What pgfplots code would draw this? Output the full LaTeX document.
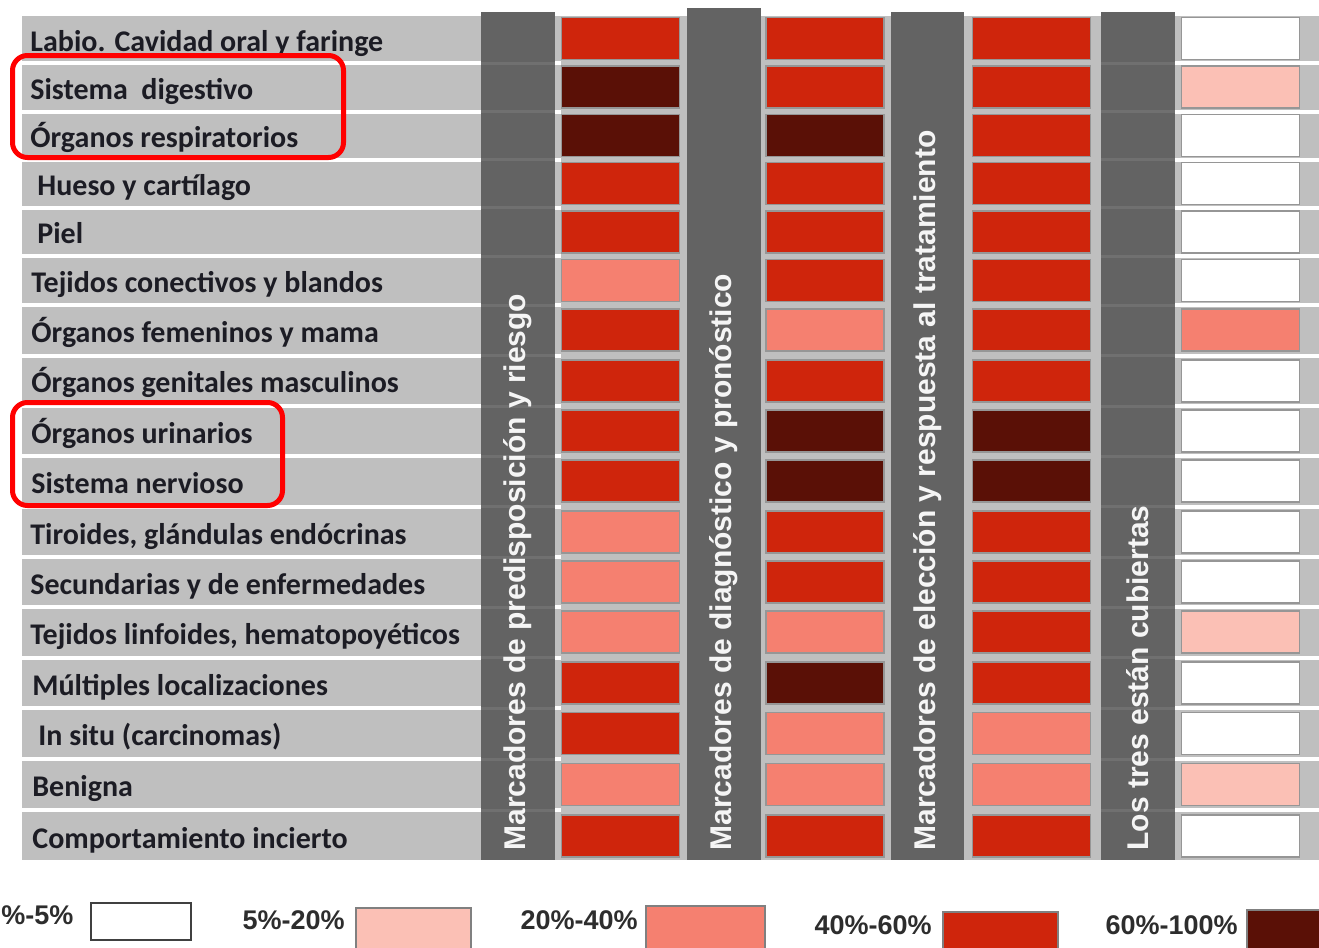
\documentclass[border=0pt]{standalone}
\usepackage{pgfplots}
\pgfplotsset{compat=1.18}
\usepackage{pgfplotstable}
\usepackage{fontspec}
\setmainfont{Carlito}
\newfontfamily\dejavu{DejaVu Sans}
\newfontfamily\libsans{Liberation Sans}
\definecolor{cred}{RGB}{207,37,12}
\definecolor{cdark}{RGB}{90,16,6}
\definecolor{csalmon}{RGB}{245,128,112}
\definecolor{cpink}{RGB}{251,192,181}
\definecolor{rowgray}{RGB}{191,191,191}
\definecolor{hdgray}{RGB}{99,99,99}
\definecolor{hdline}{RGB}{112,112,112}
\definecolor{cellborder}{RGB}{150,150,150}
\definecolor{labtext}{RGB}{28,28,36}
\definecolor{legtext}{RGB}{45,45,45}
\pgfdeclareplotmark{cell}{%
  \pgfpathrectangle{\pgfqpoint{-29.5pt}{-10.5pt}}{\pgfqpoint{59pt}{21pt}}%
  \pgfusepathqfill
  \pgfsetstrokecolor{cellborder}\pgfsetlinewidth{0.75pt}%
  \pgfpathrectangle{\pgfqpoint{-29.5pt}{-10.5pt}}{\pgfqpoint{59pt}{21pt}}%
  \pgfusepathqstroke}
% levels: W 0-5%, P 5-20%, S 20-40%, R 40-60%, D 60-100%
\pgfplotstableread{
y      c1 c2 c3 c4
38.5   R  R  R  W
87     D  R  R  P
135.5  D  D  R  W
183.5  R  R  R  W
231.75 R  R  R  W
280.5  S  R  R  W
330    R  S  R  S
380.75 R  R  R  W
431    R  D  D  W
481    R  D  D  W
532    S  R  R  W
582    S  R  R  W
632    S  S  R  P
683    R  D  R  W
733.5  R  S  S  W
784.5  S  S  S  P
836    R  R  R  W
}\data
\begin{document}
\begin{tikzpicture}
\begin{axis}[
  scale only axis, width=659.5pt, height=474pt,
  xmin=0, xmax=1319, ymin=0, ymax=948, y dir=reverse,
  axis lines=none, clip=false,
  cellstyle/.style={scatter, only marks, mark=cell,
    scatter src=explicit symbolic,
    scatter/classes={W={fill=white},P={fill=cpink},S={fill=csalmon},R={fill=cred},D={fill=cdark}}},
]
% background
\fill[rowgray] (axis cs:22,16) rectangle (axis cs:1319,860);
\pgfplotsinvokeforeach{63,111.5,159.5,207.5,256,305,355.5,406,456,506.5,557,607,657.5,708,759,810}{
  \draw[white, line width=2pt] (axis cs:22,#1) -- (axis cs:481,#1);
  \draw[white, line width=2pt] (axis cs:555,#1) -- (axis cs:561,#1);
  \draw[white, line width=2pt] (axis cs:1175,#1) -- (axis cs:1319,#1);
}
\fill[hdgray] (axis cs:481,12) rectangle (axis cs:555,860);
\fill[hdgray] (axis cs:687,8) rectangle (axis cs:761,860);
\fill[hdgray] (axis cs:891,12) rectangle (axis cs:964,860);
\fill[hdgray] (axis cs:1101,12) rectangle (axis cs:1175,860);
\pgfplotsinvokeforeach{63,111.5,159.5,207.5,256,305,355.5,406,456,506.5,557,607,657.5,708,759,810}{
  \draw[hdline, line width=1.5pt] (axis cs:481,#1) -- (axis cs:555,#1);
  \draw[hdline, line width=1.5pt] (axis cs:1101,#1) -- (axis cs:1175,#1);
}
% cells
\addplot[cellstyle] table[x expr=620.5, y=y, meta=c1]{\data};
\addplot[cellstyle] table[x expr=825, y=y, meta=c2]{\data};
\addplot[cellstyle] table[x expr=1031.5, y=y, meta=c3]{\data};
\addplot[cellstyle] table[x expr=1240.5, y=y, meta=c4]{\data};
% header labels
\begin{scope}[every node/.style={rotate=90, anchor=west, text=white!96!black, font=\libsans\bfseries\fontsize{15}{18}\selectfont, inner sep=0pt}]
\node at (axis cs:518,851) {Marcadores de predisposición y riesgo};
\node at (axis cs:724,851) {Marcadores de diagnóstico y pronóstico};
\node at (axis cs:927.5,851) {Marcadores de elección y respuesta al tratamiento};
\node at (axis cs:1138,851) {Los tres están cubiertas};
\end{scope}
% row labels
\begin{scope}[every node/.style={anchor=base west, text=labtext, font=\bfseries\fontsize{15}{18}\selectfont, inner sep=0pt}]
\node at (axis cs:30,51) {Labio. Cavidad oral y faringe};
\node at (axis cs:30,99) {Sistema\ \ digestivo};
\node at (axis cs:30,147.5) {Órganos respiratorios};
\node at (axis cs:37,195.5) {Hueso y cartílago};
\node at (axis cs:37,243.75) {Piel};
\node at (axis cs:31,292.5) {Tejidos conectivos y blandos};
\node at (axis cs:31,342) {Órganos femeninos y mama};
\node at (axis cs:31,392.75) {Órganos genitales masculinos};
\node at (axis cs:31,443) {Órganos urinarios};
\node at (axis cs:31,493) {Sistema nervioso};
\node at (axis cs:30,544) {Tiroides, glándulas endócrinas};
\node at (axis cs:30,594) {Secundarias y de enfermedades};
\node at (axis cs:30,644) {Tejidos linfoides, hematopoyéticos};
\node at (axis cs:32,695) {Múltiples localizaciones};
\node at (axis cs:38,745.5) {In situ (carcinomas)};
\node at (axis cs:32,796.5) {Benigna};
\node at (axis cs:32,848) {Comportamiento incierto};
\end{scope}
% highlight boxes
\draw[red, line width=2.5pt, rounded corners=7.5pt] (axis cs:12.5,55.5) rectangle (axis cs:343.5,157.5);
\draw[red, line width=2.5pt, rounded corners=7.5pt] (axis cs:12.5,402.5) rectangle (axis cs:282.5,505.5);
% legend
\begin{scope}[every node/.style={anchor=east, text=legtext, font=\libsans\bfseries\fontsize{13.5}{16}\selectfont, inner sep=0pt}]
\node[anchor=west] at (axis cs:1,915) {\%-5\%};
\node at (axis cs:345,920) {5\%-20\%};
\node at (axis cs:638,920) {20\%-40\%};
\node at (axis cs:932,925) {40\%-60\%};
\node at (axis cs:1238,925) {60\%-100\%};
\end{scope}
\filldraw[fill=white, draw=black!75, line width=1.2pt] (axis cs:91,903) rectangle (axis cs:191,940);
\fill[cpink] (axis cs:356,908) rectangle (axis cs:471,948);
\draw[gray, line width=1pt] (axis cs:356,948) -- (axis cs:356,908) -- (axis cs:471,908) -- (axis cs:471,948);
\fill[csalmon] (axis cs:646,906) rectangle (axis cs:765,948);
\draw[gray, line width=1pt] (axis cs:646,948) -- (axis cs:646,906) -- (axis cs:765,906) -- (axis cs:765,948);
\fill[cred] (axis cs:943,912) rectangle (axis cs:1058,948);
\draw[gray, line width=1pt] (axis cs:943,948) -- (axis cs:943,912) -- (axis cs:1058,912) -- (axis cs:1058,948);
\fill[cdark] (axis cs:1247,910) rectangle (axis cs:1319,948);
\draw[gray, line width=1pt] (axis cs:1247,948) -- (axis cs:1247,910) -- (axis cs:1319,910);
\end{axis}
\pgfresetboundingbox
\useasboundingbox (0,0) rectangle (659.5pt,474pt);
\end{tikzpicture}
\end{document}
